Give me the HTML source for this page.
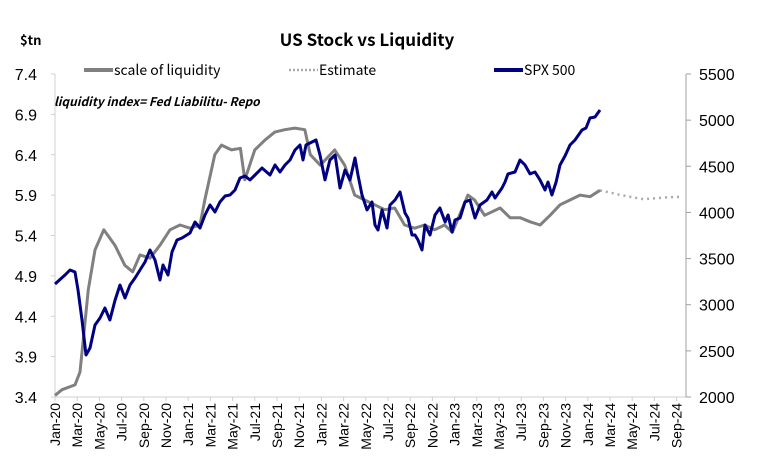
<!DOCTYPE html>
<html><head><meta charset="utf-8">
<style>
html,body{margin:0;padding:0;background:#fff;}
svg{display:block;font-family:"Liberation Sans","Noto Sans CJK SC",sans-serif;}
.cj{font-family:"WenQuanYi Zen Hei","Noto Sans CJK SC",sans-serif;}
</style></head>
<body>
<svg id="chart" width="772" height="472" viewBox="0 0 772 472">
<text class="cj" x="367" y="46" text-anchor="middle" font-size="17" font-weight="bold">US Stock vs Liquidity</text>
<text class="cj" x="20" y="45" font-size="13" font-weight="bold">$tn</text>
<g>
 <g><line x1="84" y1="70" x2="113" y2="70" stroke="#808080" stroke-width="4"/><text class="cj" x="114" y="75" font-size="14">scale of liquidity</text></g>
 <g><line x1="289" y1="70" x2="318" y2="70" stroke="#aaa" stroke-width="2.5" stroke-dasharray="2 2"/><text class="cj" x="319" y="75" font-size="14">Estimate</text></g>
 <g><line x1="494" y1="70" x2="523" y2="70" stroke="#000080" stroke-width="4"/><text class="cj" x="524" y="75" font-size="14">SPX 500</text></g>
</g>
<text class="cj" x="54" y="106" font-size="12" font-style="italic" font-weight="bold">liquidity index= Fed Liabilitu- Repo</text>
<g id="axes"></g>
<g id="series"></g>
</svg>
<script>
// month index since Jan-2020
const liqMonths=[0,0.63,1.8,2.25,3.0,3.6,4.4,5.4,6.3,7.0,7.66,8.56,9.46,10.36,11.26,12.16,13.06,13.5,14.4,15.0,15.9,16.7,17.1,18.0,18.9,19.8,20.7,21.6,22.5,23.0,23.9,25.2,26.1,27.0,27.9,28.8,29.7,30.6,31.5,32.4,33.3,34.2,35.1,35.8,37.2,37.8,38.7,40.1,41.0,41.9,42.8,43.7,44.6,45.5,46.4,47.3,48.2,49.1];
const liqValues=[3.42,3.49,3.55,3.71,4.73,5.22,5.47,5.28,5.03,4.95,5.16,5.12,5.28,5.47,5.53,5.49,5.53,5.84,6.4,6.52,6.46,6.48,6.09,6.46,6.58,6.68,6.71,6.73,6.71,6.4,6.27,6.46,6.27,5.9,5.84,5.78,5.72,5.74,5.53,5.49,5.53,5.47,5.53,5.44,5.9,5.84,5.65,5.74,5.62,5.62,5.57,5.53,5.65,5.78,5.84,5.9,5.88,5.96];
const estMonths=[49.1,51,53,55,56.5];
const estValues=[5.96,5.9,5.85,5.87,5.88];
const spxMonths=[0,0.9,1.35,1.8,2.07,2.43,2.79,3.15,3.6,4.05,4.5,4.95,5.41,5.86,6.31,6.76,7.21,7.66,8.11,8.56,9.01,9.46,9.73,10.18,10.54,10.99,11.44,12.16,12.61,13.06,13.51,13.96,14.41,14.86,15.32,15.77,16.22,16.67,17.12,17.57,18.02,18.65,19.37,19.82,20.27,20.72,21.17,21.62,22.07,22.34,22.61,23.15,23.51,23.87,24.32,24.77,25.23,25.68,26.13,26.58,27.03,27.3,27.66,28.11,28.56,28.83,29.1,29.46,29.91,30.18,30.63,31.08,31.53,31.8,32.16,32.43,32.7,33.06,33.33,33.78,34.23,34.68,35.14,35.41,35.77,36.04,36.49,36.94,37.39,37.84,38.29,38.92,39.37,39.64,40.27,40.54,40.81,41.44,41.89,42.34,42.79,43.24,43.69,44.14,44.41,44.77,45.14,45.5,45.95,46.4,46.85,47.48,47.84,48.2,48.65,49.1];
const spxValues=[3224,3322,3376,3354,3160,2834,2455,2531,2780,2856,2964,2834,3051,3214,3073,3214,3289,3376,3463,3593,3485,3268,3430,3322,3571,3701,3723,3777,3896,3831,3972,4081,4005,4113,4178,4189,4243,4373,4395,4352,4406,4481,4406,4514,4438,4514,4568,4676,4731,4568,4731,4763,4785,4622,4352,4568,4622,4265,4460,4352,4590,4406,4189,4027,4113,3864,3810,4027,3831,4081,4135,4221,3994,3940,3755,3755,3701,3593,3864,3755,3972,4048,3896,3972,3788,3918,3940,4113,4135,3940,4081,4135,4221,4156,4265,4330,4417,4438,4568,4514,4417,4438,4352,4243,4330,4189,4330,4514,4611,4731,4785,4893,4915,5023,5034,5110];
const leftTicks=[3.4,3.9,4.4,4.9,5.4,5.9,6.4,6.9,7.4];
const rightTicks=[2000,2500,3000,3500,4000,4500,5000,5500];
const xLabels=["Jan-20","Mar-20","May-20","Jul-20","Sep-20","Nov-20","Jan-21","Mar-21","May-21","Jul-21","Sep-21","Nov-21","Jan-22","Mar-22","May-22","Jul-22","Sep-22","Nov-22","Jan-23","Mar-23","May-23","Jul-23","Sep-23","Nov-23","Jan-24","Mar-24","May-24","Jul-24","Sep-24"];

const NS="http://www.w3.org/2000/svg";
const X0=55,X1=686,Y0=397,Y1=74,PXM=11.1;
const xs=m=>X0+m*PXM;
const yL=v=>Y0-(v-3.4)/(7.4-3.4)*(Y0-Y1);
const yR=v=>Y0-(v-2000)/(5500-2000)*(Y0-Y1);
const axes=document.getElementById('axes'),series=document.getElementById('series');
function mk(tag,attrs,parent){const e=document.createElementNS(NS,tag);for(const k in attrs)e.setAttribute(k,attrs[k]);parent.appendChild(e);return e;}

let e=mk('line',{x1:X0,y1:Y1,x2:X0,y2:Y0,stroke:'#d0d0d0','stroke-width':1},axes);


e=mk('line',{x1:X0,y1:Y0,x2:X1,y2:Y0,stroke:'#d0d0d0','stroke-width':1},axes);


e=mk('line',{x1:X1,y1:Y1,x2:X1,y2:Y0,stroke:'#a0a0a0','stroke-width':1},axes);



leftTicks.forEach(v=>{const y=yL(v);
 mk('line',{x1:X0-4,y1:y,x2:X0,y2:y,stroke:'#d0d0d0'},axes);
 const t=mk('text',{x:37,y:y+6,'text-anchor':'end','font-size':16,fill:'#000'},axes);t.textContent=v.toFixed(1);
 
 
});
rightTicks.forEach(v=>{const y=yR(v);
 mk('line',{x1:X1,y1:y,x2:X1+5,y2:y,stroke:'#a0a0a0'},axes);
 const t=mk('text',{x:699,y:y+6,'font-size':16,fill:'#000'},axes);t.textContent=v;
 
 
});
xLabels.forEach((s,i)=>{const x=xs(i*2);
 mk('line',{x1:x,y1:Y0,x2:x,y2:Y0+4,stroke:'#d0d0d0'},axes);
 const t=mk('text',{x:0,y:0,'text-anchor':'end','font-size':14,transform:`translate(${x+5},${Y0+6}) rotate(-90)`},axes);t.textContent=s;
 
 
});

function pts(ms,vs,yf){return ms.map((m,i)=>xs(m).toFixed(1)+','+yf(vs[i]).toFixed(1)).join(' ');}
e=mk('polyline',{points:pts(estMonths,estValues,yL),fill:'none',stroke:'#aaa','stroke-width':2.5,'stroke-dasharray':'2 4'},series);


e=mk('polyline',{points:pts(liqMonths,liqValues,yL),fill:'none',stroke:'#808080','stroke-width':3,'stroke-linejoin':'round'},series);


e=mk('polyline',{points:pts(spxMonths,spxValues,yR),fill:'none',stroke:'#000080','stroke-width':3,'stroke-linejoin':'round'},series);


</script>
</body></html>
